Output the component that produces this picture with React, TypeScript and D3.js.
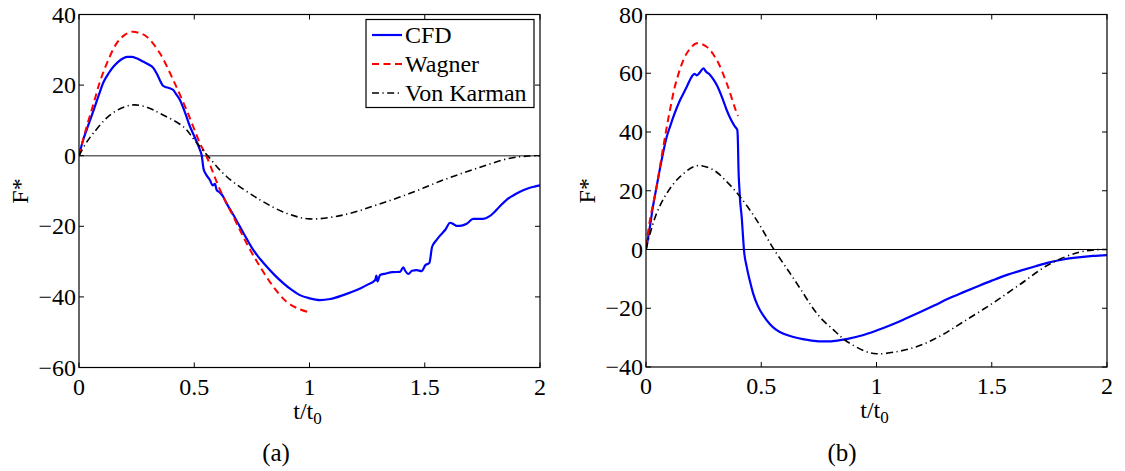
import React from 'react';
import * as d3 from 'd3';

// ---------- data: panel (a) ----------
const tCfdA = [0, 0.015, 0.033, 0.062, 0.085, 0.106, 0.13, 0.149, 0.17, 0.192, 0.21, 0.229, 0.25, 0.28, 0.3, 0.323, 0.34, 0.351, 0.362, 0.373, 0.39, 0.409, 0.42, 0.438, 0.46, 0.482, 0.505, 0.525, 0.532, 0.54, 0.55, 0.568, 0.58, 0.59, 0.597, 0.61, 0.625, 0.64, 0.67, 0.698, 0.727, 0.756, 0.785, 0.814, 0.85, 0.886, 0.92, 0.958, 1.0, 1.045, 1.09, 1.146, 1.18, 1.22, 1.25, 1.285, 1.29, 1.295, 1.306, 1.33, 1.36, 1.393, 1.407, 1.415, 1.429, 1.445, 1.465, 1.486, 1.503, 1.52, 1.532, 1.55, 1.568, 1.59, 1.61, 1.625, 1.638, 1.66, 1.682, 1.71, 1.73, 1.753, 1.78, 1.797, 1.825, 1.855, 1.88, 1.913, 1.95, 1.98, 2.0];
const fCfdA = [0, 3.8, 7.3, 12.6, 17.0, 20.8, 23.5, 25.2, 26.6, 27.6, 28.0, 28.0, 27.6, 26.6, 25.9, 24.8, 22.9, 21.4, 20.0, 19.5, 19.2, 18.6, 17.6, 15.8, 12.2, 8.2, 4.8, 1.6, 0.2, -3.6, -5.2, -6.9, -8.4, -8.0, -9.7, -10.4, -11.5, -13.5, -16.8, -20.1, -23.5, -26.7, -29.2, -31.4, -33.9, -36.1, -37.9, -39.5, -40.4, -40.9, -40.6, -39.5, -38.7, -37.6, -36.6, -35.2, -34.0, -35.6, -33.8, -33.4, -33.0, -32.9, -31.6, -32.6, -33.5, -32.6, -32.4, -32.7, -31.0, -30.4, -25.8, -24.0, -22.5, -20.9, -19.0, -19.4, -19.9, -19.8, -19.3, -17.9, -17.9, -17.9, -17.2, -16.3, -14.4, -12.5, -11.4, -10.2, -9.2, -8.7, -8.4];

const tWagA = [0, 0.03, 0.062, 0.09, 0.12, 0.163, 0.2, 0.229, 0.26, 0.294, 0.351, 0.409, 0.467, 0.525, 0.554, 0.612, 0.67, 0.727, 0.785, 0.843, 0.901, 0.95, 0.99];
const fWagA = [0, 7.5, 14.5, 20.8, 26.0, 31.8, 34.3, 35.1, 34.8, 33.7, 29.0, 21.4, 12.9, 3.5, -0.3, -9.7, -17.3, -24.8, -31.4, -37.1, -41.4, -43.3, -44.2];

const tVkA = [0, 0.03, 0.062, 0.134, 0.2, 0.243, 0.3, 0.351, 0.453, 0.5, 0.558, 0.64, 0.785, 0.9, 1.0, 1.146, 1.29, 1.436, 1.58, 1.725, 1.87, 1.95, 2.0];
const fVkA = [0, 3.5, 6.35, 11.5, 13.9, 14.4, 13.6, 12.0, 8.2, 4.5, 0, -5.9, -12.5, -16.3, -17.9, -16.8, -14.0, -10.65, -6.9, -3.6, -0.7, -0.1, 0];

// ---------- data: panel (b) ----------
const tCfdB = [0, 0.008, 0.017, 0.03, 0.046, 0.068, 0.09, 0.105, 0.119, 0.135, 0.148, 0.165, 0.177, 0.198, 0.21, 0.22, 0.235, 0.249, 0.26, 0.278, 0.293, 0.307, 0.33, 0.35, 0.37, 0.386, 0.396, 0.399, 0.401, 0.405, 0.408, 0.412, 0.415, 0.42, 0.425, 0.437, 0.45, 0.465, 0.485, 0.51, 0.54, 0.5625, 0.6, 0.64, 0.68, 0.719, 0.78, 0.83, 0.875, 0.94, 1.0, 1.06, 1.125, 1.19, 1.25, 1.31, 1.375, 1.44, 1.5, 1.56, 1.625, 1.69, 1.75, 1.81, 1.875, 1.94, 2.0];
const fCfdB = [0, 3.5, 7.8, 14.5, 21.4, 30.5, 38.4, 42.0, 45.2, 48.5, 50.9, 53.5, 55.4, 58.8, 59.8, 59.3, 60.4, 61.7, 60.6, 59.4, 57.8, 56.0, 51.8, 47.5, 44.0, 41.8, 40.7, 36.0, 28.2, 21.0, 16.9, 13.5, 11.2, 5.5, -0.1, -5.9, -10.5, -15.0, -19.2, -22.6, -25.6, -27.2, -28.8, -29.8, -30.5, -31.0, -31.3, -31.0, -30.4, -29.2, -27.6, -25.8, -23.6, -21.3, -19.1, -16.8, -14.6, -12.5, -10.6, -8.8, -7.2, -5.7, -4.4, -3.4, -2.7, -2.2, -1.9];

const tWagB = [0, 0.017, 0.046, 0.075, 0.104, 0.133, 0.177, 0.22, 0.263, 0.307, 0.35, 0.394, 0.40];
const fWagB = [0.9, 10.0, 21.4, 35.0, 47.5, 57.7, 66.8, 70.2, 69.0, 64.5, 56.6, 46.4, 45.5];

const tVkB = [0, 0.01, 0.046, 0.09, 0.148, 0.22, 0.292, 0.35, 0.408, 0.48, 0.552, 0.625, 0.683, 0.719, 0.76, 0.8125, 0.85, 0.875, 0.953, 1.0, 1.094, 1.1875, 1.28, 1.375, 1.5, 1.625, 1.75, 1.875, 1.95, 2.0];
const fVkB = [0, 3.2, 12.3, 19.1, 24.8, 28.5, 27.1, 23.1, 18.0, 10.0, 0.4, -8.1, -15.0, -19.4, -23.5, -27.3, -30.0, -31.5, -34.7, -35.5, -34.7, -32.7, -29.3, -24.7, -18.5, -11.75, -5.0, -1.0, -0.1, 0];

// ---------- ticks ----------
const xTicks = [0, 0.5, 1, 1.5, 2];
const xTickLabels = ['0', '0.5', '1', '1.5', '2'];
const yTicksA = [-60, -40, -20, 0, 20, 40];
const yTicksB = [-40, -20, 0, 20, 40, 60, 80];

const legendLabels = ['CFD', 'Wagner', 'Von Karman'];

const FONT = "'Liberation Serif', 'Times New Roman', Tinos, 'DejaVu Serif', serif";
const BLUE = '#0000ff';
const RED = '#ff0000';
const DASH = '7 4.5';
const DASHDOT = '7 3.5 1.2 3.5';

type Series = { t: number[]; f: number[]; color: string; width: number; dash?: string; curve: any };

function fmt(v: number) {
  return v < 0 ? '\u2212' + Math.abs(v) : String(v);
}

function Panel(props: {
  id: string; left: number; right: number; top: number; bottom: number;
  yDomain: [number, number]; yTicks: number[]; series: Series[];
  zeroColor: string; zeroWidth: number; legend: boolean; caption: string; captionX: number; yLabelX: number;
}) {
  const { id, left, right, top, bottom, yDomain, yTicks, series, zeroColor, zeroWidth, legend, caption, captionX, yLabelX } = props;
  const x = d3.scaleLinear().domain([0, 2]).range([left, right]);
  const y = d3.scaleLinear().domain(yDomain).range([bottom, top]);
  const tl = 5;
  const mk = (s: Series) =>
    d3.line<number>()
      .x((d) => x(d))
      .y((_d, i) => y(s.f[i]))
      .curve(s.curve)(s.t) || '';
  const cx = (left + right) / 2;
  const txt = { fontFamily: FONT };
  return (
    <g style={txt}>
      <defs>
        <clipPath id={id}>
          <rect x={left} y={top} width={right - left} height={bottom - top} />
        </clipPath>
      </defs>
      <rect x={left} y={top} width={right - left} height={bottom - top} fill="#fff" />
      <line x1={left} x2={right} y1={y(0)} y2={y(0)} stroke={zeroColor} strokeWidth={zeroWidth} />
      <g clipPath={`url(#${id})`}>
        {series.map((s, i) => (
          <path key={i} d={mk(s)} fill="none" stroke={s.color} strokeWidth={s.width}
            strokeDasharray={s.dash} strokeLinejoin="round" />
        ))}
      </g>
      {xTicks.map((t, i) => (
        <g key={'x' + i}>
          <line x1={x(t)} x2={x(t)} y1={bottom} y2={bottom - tl} stroke="#000" strokeWidth={1} />
          <line x1={x(t)} x2={x(t)} y1={top} y2={top + tl} stroke="#000" strokeWidth={1} />
          <text x={x(t)} y={bottom + 27} textAnchor="middle" style={txt} fontSize={24}>{xTickLabels[i]}</text>
        </g>
      ))}
      {yTicks.map((v, i) => (
        <g key={'y' + i}>
          <line x1={left} x2={left + tl} y1={y(v)} y2={y(v)} stroke="#000" strokeWidth={1} />
          <line x1={right} x2={right - tl} y1={y(v)} y2={y(v)} stroke="#000" strokeWidth={1} />
          <text x={left - 3} y={y(v)} dy="0.34em" textAnchor="end" style={txt} fontSize={24}>{fmt(v)}</text>
        </g>
      ))}
      <rect x={left} y={top} width={right - left} height={bottom - top} fill="none" stroke="#000" strokeWidth={1.2} />
      <text x={cx - 2} y={bottom + 51} textAnchor="middle" style={txt} fontSize={24}>
        t/t<tspan fontSize={17} dy={5}>0</tspan>
      </text>
      <text transform={`translate(${yLabelX},${(top + bottom) / 2}) rotate(-90)`} textAnchor="middle" style={txt} fontSize={24}>F*</text>
      <text x={captionX} y={461} textAnchor="middle" style={txt} fontSize={25}>{caption}</text>
      {legend && (
        <g>
          <rect x={366} y={19.5} width={168} height={88} fill="#fff" stroke="#000" strokeWidth={1.2} />
          {legendLabels.map((lab, i) => {
            const s = series[i];
            const yy = 35 + i * 29;
            return (
              <g key={lab}>
                <line x1={372} x2={402} y1={yy} y2={yy} stroke={s.color} strokeWidth={s.width} strokeDasharray={s.dash} />
                <text x={405} y={yy} dy="0.34em" style={txt} fontSize={24}>{lab}</text>
              </g>
            );
          })}
        </g>
      )}
    </g>
  );
}

export default function App() {
  const smooth = d3.curveCatmullRom.alpha(0.5);
  const seriesA: Series[] = [
    { t: tCfdA, f: fCfdA, color: BLUE, width: 2.2, curve: d3.curveMonotoneX },
    { t: tWagA, f: fWagA, color: RED, width: 2, dash: DASH, curve: smooth },
    { t: tVkA, f: fVkA, color: '#000', width: 1.6, dash: DASHDOT, curve: smooth },
  ];
  const seriesB: Series[] = [
    { t: tCfdB, f: fCfdB, color: BLUE, width: 2.2, curve: d3.curveMonotoneX },
    { t: tWagB, f: fWagB, color: RED, width: 2, dash: DASH, curve: smooth },
    { t: tVkB, f: fVkB, color: '#000', width: 1.6, dash: DASHDOT, curve: smooth },
  ];
  return (
    <svg width={1125} height={471} style={{ position: 'absolute', left: 0, top: 0, background: '#fff' }}>
      <rect x={0} y={0} width={1125} height={471} fill="#fff" />
      <Panel id="clipA" left={79} right={540} top={14.5} bottom={367.5} yDomain={[-60, 40]} yTicks={yTicksA}
        series={seriesA} zeroColor="#666" zeroWidth={1.5} legend={true} caption="(a)" captionX={276} yLabelX={28} />
      <Panel id="clipB" left={646} right={1107} top={14.5} bottom={367} yDomain={[-40, 80]} yTicks={yTicksB}
        series={seriesB} zeroColor="#000" zeroWidth={1} legend={false} caption="(b)" captionX={842} yLabelX={595} />
    </svg>
  );
}
